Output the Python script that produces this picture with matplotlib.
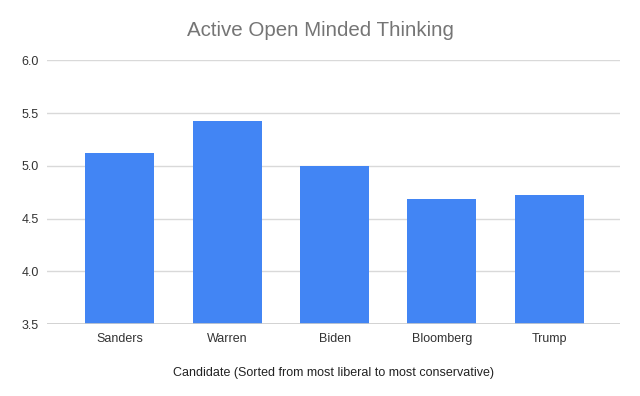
import matplotlib.pyplot as plt

candidates = ["Sanders", "Warren", "Biden", "Bloomberg", "Trump"]
aot_scores = [5.12, 5.42, 5.0, 4.69, 4.72]
y_ticks = [3.5, 4.0, 4.5, 5.0, 5.5, 6.0]

plt.rcParams['font.family'] = ['Liberation Sans', 'DejaVu Sans']

fig = plt.figure(figsize=(6.4, 3.96), dpi=100)
ax = fig.add_axes([0.074, 0.181, 0.895, 0.667])

x = list(range(len(candidates)))
ax.bar(x, aot_scores, width=0.643, color='#4285F4', zorder=3)

ax.set_ylim(3.5, 6.0)
ax.set_xlim(-0.676, 4.66)
ax.set_yticks(y_ticks)
ax.set_yticklabels([f"{v:.1f}" for v in y_ticks])
ax.set_xticks(x)
ax.set_xticklabels(candidates)
ax.grid(axis='y', color='#d9d9d9', linewidth=1, zorder=0)
ax.axhline(3.5, color='#cccccc', linewidth=1.2, zorder=4)
for s in ax.spines.values():
    s.set_visible(False)
ax.tick_params(length=0, labelsize=9, colors='#333333')
ax.tick_params(axis='x', pad=6)
ax.tick_params(axis='y', pad=6)

ax.set_xlabel("Candidate (Sorted from most liberal to most conservative)",
              fontsize=9, color='#222222', labelpad=16)
fig.text(0.5, 1 - 30.7 / 396, "Active Open Minded Thinking", ha='center', va='center',
         fontsize=14.8, color='#757575')

plt.savefig('out.png', dpi=100)
